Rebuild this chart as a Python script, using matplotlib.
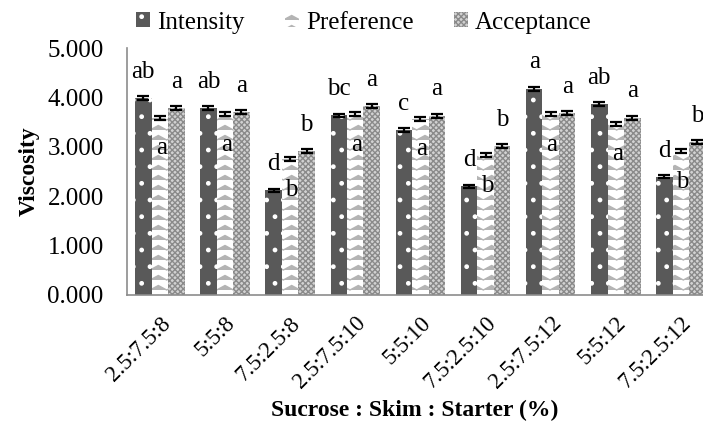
import warnings
import numpy as np
import matplotlib
matplotlib.use("Agg")
import matplotlib.pyplot as plt
from matplotlib import hatch as mhatch
from matplotlib.path import Path

warnings.filterwarnings("ignore")

# ---------------- DATA ----------------
categories = ["2.5:7.5:8", "5:5:8", "7.5:2.5:8",
              "2.5:7.5:10", "5:5:10", "7.5:2.5:10",
              "2.5:7.5:12", "5:5:12", "7.5:2.5:12"]

intensity = [3.99, 3.78, 2.12, 3.64, 3.34, 2.20, 4.18, 3.86, 2.39]
preference = [3.59, 3.66, 2.75, 3.66, 3.57, 2.83, 3.66, 3.47, 2.91]
acceptance = [3.78, 3.70, 2.91, 3.83, 3.63, 3.02, 3.68, 3.59, 3.10]

intensity_err = [0.04, 0.04, 0.03, 0.03, 0.04, 0.03, 0.04, 0.04, 0.03]
preference_err = [0.04, 0.04, 0.04, 0.04, 0.04, 0.04, 0.04, 0.04, 0.04]
acceptance_err = [0.04, 0.04, 0.04, 0.04, 0.04, 0.04, 0.04, 0.04, 0.04]

intensity_lbl = ["ab", "ab", "d", "bc", "c", "d", "a", "ab", "d"]
preference_lbl = ["a", "a", "b", "a", "a", "b", "a", "a", "b"]
acceptance_lbl = ["a", "a", "b", "a", "a", "b", "a", "a", "b"]


# ---------------- ZIGZAG HATCH ('z') ----------------
class ZigzagHatch(mhatch.HatchPatternBase):
    def __init__(self, hatch, density):
        self.num_rows = hatch.count("z") * 10
        self.num_teeth = 6
        self.num_vertices = self.num_rows * (2 * self.num_teeth + 1)

    def set_vertices_and_codes(self, vertices, codes):
        n = 2 * self.num_teeth + 1
        xs = np.linspace(0, 1, n)
        amp = 0.45 / max(self.num_rows, 1)
        bump = np.tile([0.0, 1.0], self.num_teeth + 1)[:n] * amp
        for r in range(self.num_rows):
            y0 = r / self.num_rows
            vertices[r * n:(r + 1) * n, 0] = xs
            vertices[r * n:(r + 1) * n, 1] = y0 + bump
            codes[r * n] = Path.MOVETO
            codes[r * n + 1:(r + 1) * n] = Path.LINETO


mhatch._hatch_types.append(ZigzagHatch)

# ---------------- STYLE ----------------
plt.rcParams["font.family"] = ["Liberation Serif", "DejaVu Serif"]
plt.rcParams["hatch.linewidth"] = 1.0

fig = plt.figure(figsize=(7.03, 4.34), dpi=100)
ax = fig.add_axes([0.181, 0.321, 0.834, 0.568])

x = np.arange(len(categories))
w = 0.253

err_kw = dict(ecolor="black", elinewidth=1.6, capsize=4.5, capthick=1.6)

b1 = ax.bar(x - w, intensity, w, yerr=intensity_err, color="#595959",
            edgecolor="white", linewidth=0, hatch=".", error_kw=err_kw,
            label="Intensity")
b2 = ax.bar(x, preference, w, yerr=preference_err, color="white",
            edgecolor="#b4b4b4", linewidth=0, hatch="z", error_kw=err_kw,
            label="Preference")
b3 = ax.bar(x + w, acceptance, w, yerr=acceptance_err, color="#d2d2d2",
            edgecolor="#8a8a8a", linewidth=0, hatch="xxxxxx", error_kw=err_kw,
            label="Acceptance")

# ---------------- LETTER LABELS ----------------
for i in range(len(categories)):
    ax.annotate(intensity_lbl[i], (x[i] - w, intensity[i]),
                xytext=(0, 11), textcoords="offset points",
                ha="center", va="bottom", fontsize=18)
    ax.annotate(preference_lbl[i], (x[i], preference[i]),
                xytext=(1, -22), textcoords="offset points",
                ha="center", va="center", fontsize=18)
    ax.annotate(acceptance_lbl[i], (x[i] + w, acceptance[i]),
                xytext=(0, 11), textcoords="offset points",
                ha="center", va="bottom", fontsize=18)

# ---------------- AXES ----------------
ax.set_xlim(-0.5, len(categories) - 0.5)
ax.set_ylim(0, 5)
ax.set_yticks([0, 1, 2, 3, 4, 5])
ax.set_yticklabels([f"{v:.3f}" for v in [0, 1, 2, 3, 4, 5]], fontsize=18)
ax.set_xticks(x)
ax.set_xticklabels(categories, rotation=45, ha="right",
                   rotation_mode="anchor", fontsize=16.5)
ax.tick_params(axis="both", length=0)
ax.tick_params(axis="y", pad=17)
ax.tick_params(axis="x", pad=13)

for s in ["top", "right"]:
    ax.spines[s].set_visible(False)
for s in ["left", "bottom"]:
    ax.spines[s].set_color("#8c8c8c")
    ax.spines[s].set_linewidth(1.2)

ax.set_ylabel("Viscosity", fontsize=17, fontweight="bold")
ax.yaxis.set_label_coords(-0.15, 0.5)
fig.text(415 / 703, 1 - 410 / 434, "Sucrose : Skim : Starter (%)",
         ha="center", va="center", fontsize=17, fontweight="bold")

fig.legend(handles=[b1, b2, b3], labels=["Intensity", "Preference", "Acceptance"],
           loc="upper center", bbox_to_anchor=(364 / 703, 1.025), ncol=3,
           frameon=False, fontsize=18, handlelength=0.55, handleheight=0.55,
           handletextpad=0.3, columnspacing=1.6)

fig.savefig("out.png", dpi=100)
